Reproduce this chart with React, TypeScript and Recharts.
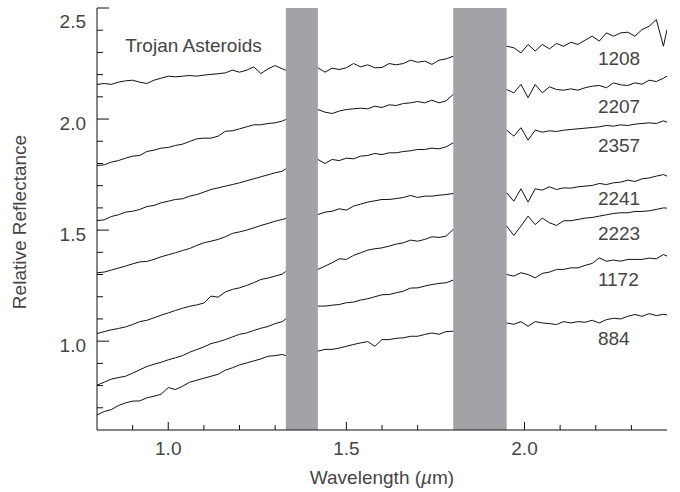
import { LineChart, Line, XAxis, YAxis, ReferenceArea, ReferenceDot, Label } from "recharts"

// wavelength grid (um); the two nulls break the lines at the telluric gaps
const waves = [
  0.8, 0.82, 0.84, 0.86, 0.88, 0.9, 0.92, 0.94, 0.96, 0.98, 1.0, 1.02, 1.04, 1.06,
  1.08, 1.1, 1.12, 1.14, 1.16, 1.18, 1.2, 1.22, 1.24, 1.26, 1.28, 1.3, 1.32, 1.33,
  1.375,
  1.42, 1.44, 1.46, 1.48, 1.5, 1.52, 1.54, 1.56, 1.58, 1.6, 1.62, 1.64, 1.66, 1.68,
  1.7, 1.72, 1.74, 1.76, 1.78, 1.8,
  1.875,
  1.95, 1.97, 1.99, 2.01, 2.03, 2.05, 2.07, 2.09, 2.11, 2.13, 2.15, 2.17, 2.19, 2.21,
  2.23, 2.25, 2.27, 2.29, 2.31, 2.33, 2.35, 2.37, 2.39, 2.4,
]

const s1208 = [
  2.156, 2.16, 2.156, 2.166, 2.172, 2.175, 2.166, 2.16, 2.175, 2.184, 2.193, 2.19, 2.193, 2.196,
  2.193, 2.198, 2.201, 2.204, 2.208, 2.22, 2.211, 2.22, 2.235, 2.205, 2.226, 2.241, 2.226, 2.22,
  null,
  2.231, 2.211, 2.229, 2.223, 2.231, 2.25, 2.235, 2.244, 2.231, 2.232, 2.25, 2.244, 2.25, 2.265,
  2.256, 2.261, 2.246, 2.265, 2.271, 2.283,
  null,
  2.328, 2.321, 2.298, 2.336, 2.306, 2.336, 2.316, 2.34, 2.328, 2.346, 2.336, 2.355, 2.373, 2.351,
  2.388, 2.373, 2.388, 2.391, 2.373, 2.403, 2.418, 2.448, 2.328, 2.403,
]
const s2207 = [
  1.791, 1.794, 1.806, 1.813, 1.824, 1.833, 1.836, 1.854, 1.86, 1.869, 1.872, 1.881, 1.887, 1.899,
  1.911, 1.914, 1.914, 1.923, 1.945, 1.947, 1.956, 1.965, 1.974, 1.974, 1.98, 1.983, 1.991, 1.998,
  null,
  2.043, 2.031, 2.025, 2.036, 2.043, 2.046, 2.049, 2.046, 2.058, 2.052, 2.064, 2.061, 2.07, 2.073,
  2.079, 2.073, 2.085, 2.073, 2.082, 2.111,
  null,
  2.133, 2.118, 2.156, 2.096, 2.156, 2.118, 2.145, 2.133, 2.13, 2.136, 2.13, 2.141, 2.148, 2.151,
  2.141, 2.163, 2.154, 2.151, 2.163, 2.157, 2.175, 2.169, 2.184, 2.193,
]
const s2357 = [
  1.543, 1.546, 1.561, 1.569, 1.581, 1.585, 1.593, 1.606, 1.611, 1.623, 1.63, 1.638, 1.641, 1.653,
  1.66, 1.671, 1.683, 1.69, 1.698, 1.705, 1.713, 1.722, 1.731, 1.74, 1.749, 1.758, 1.765, 1.776,
  null,
  1.818, 1.8, 1.818, 1.813, 1.824, 1.821, 1.833, 1.836, 1.845, 1.84, 1.848, 1.848, 1.854, 1.857,
  1.863, 1.863, 1.869, 1.866, 1.875, 1.893,
  null,
  1.95, 1.923, 1.961, 1.905, 1.95, 1.941, 1.947, 1.944, 1.95, 1.953, 1.956, 1.959, 1.962, 1.965,
  1.971, 1.968, 1.974, 1.971, 1.977, 1.98, 1.983, 1.98, 1.992, 1.986,
]
const s2241 = [
  1.308, 1.311, 1.32, 1.329, 1.338, 1.348, 1.357, 1.359, 1.368, 1.38, 1.389, 1.398, 1.408, 1.417,
  1.431, 1.443, 1.45, 1.458, 1.47, 1.485, 1.492, 1.5, 1.51, 1.521, 1.53, 1.54, 1.548, 1.552,
  null,
  1.57, 1.581, 1.585, 1.596, 1.59, 1.608, 1.617, 1.626, 1.632, 1.638, 1.638, 1.642, 1.647, 1.656,
  1.647, 1.653, 1.653, 1.657, 1.66, 1.665,
  null,
  1.668, 1.63, 1.686, 1.626, 1.686, 1.68, 1.695, 1.683, 1.69, 1.689, 1.695, 1.698, 1.701, 1.71,
  1.705, 1.713, 1.716, 1.725, 1.719, 1.731, 1.735, 1.743, 1.75, 1.743,
]
const s2223 = [
  1.034, 1.043, 1.051, 1.057, 1.064, 1.075, 1.088, 1.094, 1.105, 1.117, 1.127, 1.138, 1.148, 1.157,
  1.163, 1.172, 1.203, 1.198, 1.221, 1.233, 1.24, 1.251, 1.263, 1.278, 1.284, 1.293, 1.302, 1.314,
  null,
  1.323, 1.338, 1.353, 1.371, 1.368, 1.386, 1.398, 1.41, 1.416, 1.42, 1.428, 1.437, 1.443, 1.455,
  1.45, 1.458, 1.47, 1.467, 1.473, 1.503,
  null,
  1.518, 1.476, 1.518, 1.563, 1.525, 1.554, 1.533, 1.521, 1.542, 1.542, 1.548, 1.554, 1.557, 1.563,
  1.569, 1.575, 1.578, 1.578, 1.584, 1.584, 1.587, 1.593, 1.6, 1.599,
]
const s1172 = [
  0.802, 0.815, 0.829, 0.836, 0.842, 0.856, 0.871, 0.886, 0.896, 0.905, 0.916, 0.925, 0.935, 0.95,
  0.962, 0.974, 0.989, 0.997, 1.007, 1.019, 1.031, 1.037, 1.048, 1.058, 1.066, 1.079, 1.088, 1.1,
  null,
  1.158, 1.158, 1.162, 1.165, 1.173, 1.176, 1.185, 1.191, 1.2, 1.209, 1.21, 1.218, 1.225, 1.239,
  1.24, 1.248, 1.255, 1.26, 1.263, 1.275,
  null,
  1.3, 1.293, 1.308, 1.3, 1.285, 1.305, 1.311, 1.323, 1.323, 1.33, 1.33, 1.341, 1.35, 1.375,
  1.36, 1.365, 1.36, 1.368, 1.368, 1.368, 1.374, 1.371, 1.39, 1.383,
]
const s884 = [
  0.668, 0.683, 0.692, 0.71, 0.722, 0.73, 0.731, 0.745, 0.752, 0.761, 0.791, 0.782, 0.797, 0.815,
  0.824, 0.833, 0.842, 0.851, 0.869, 0.88, 0.893, 0.902, 0.911, 0.92, 0.932, 0.935, 0.94, 0.935,
  null,
  0.955, 0.963, 0.963, 0.969, 0.977, 0.985, 0.992, 0.998, 0.977, 1.007, 1.007, 1.013, 1.015, 1.022,
  1.022, 1.03, 1.037, 1.031, 1.043, 1.045,
  null,
  1.082, 1.076, 1.088, 1.067, 1.088, 1.082, 1.079, 1.075, 1.088, 1.082, 1.088, 1.085, 1.094, 1.082,
  1.097, 1.103, 1.1, 1.112, 1.12, 1.112, 1.124, 1.115, 1.121, 1.118,
]

const names = ["1208", "2207", "2357", "2241", "2223", "1172", "884"]
const spectra = [s1208, s2207, s2357, s2241, s2223, s1172, s884]
const labelWave = 2.206
const labelLevels = [2.275, 2.058, 1.885, 1.645, 1.488, 1.278, 1.015]

const bandStarts = [1.33, 1.8]
const bandEnds = [1.42, 1.95]

const xTicks = [0.9, 1.0, 1.1, 1.2, 1.3, 1.5, 1.6, 1.7, 2.0, 2.1, 2.2, 2.3]
const xMajor = [1.0, 1.5, 2.0]
const yTicks = [0.7, 0.8, 0.9, 1.0, 1.1, 1.2, 1.3, 1.4, 1.5, 1.6, 1.7, 1.8, 1.9, 2.0, 2.1, 2.2, 2.3, 2.4, 2.5]
const yMajor = [1.0, 1.5, 2.0, 2.5]

const rows = waves.map((w, i) => {
  const row: Record<string, number | null> = { w }
  names.forEach((n, k) => (row["s" + n] = spectra[k][i]))
  return row
})

const FONT = "'Liberation Sans', Arial, Helvetica, sans-serif"
const TEXT = "#454545"
const INK = "#111"

const isMajor = (list: number[], v: number) => list.some((m) => Math.abs(m - v) < 1e-6)

function BottomTick(p: any) {
  const v = p.payload.value
  const major = isMajor(xMajor, v)
  return (
    <g>
      <line x1={p.x} x2={p.x} y1={p.y} y2={p.y - (major ? 8 : 5)} stroke={INK} />
      {major && (
        <text x={p.x} y={p.y + 25} textAnchor="middle" fontSize={19} fontFamily={FONT} fill={TEXT}>
          {v.toFixed(1)}
        </text>
      )}
    </g>
  )
}

function TopTick(p: any) {
  const major = isMajor(xMajor, p.payload.value)
  return <line x1={p.x} x2={p.x} y1={p.y} y2={p.y + (major ? 8 : 5)} stroke={INK} />
}

function LeftTick(p: any) {
  const v = p.payload.value
  const major = isMajor(yMajor, v)
  const top = Math.abs(v - 2.5) < 1e-6
  return (
    <g>
      <line x1={p.x} x2={p.x + (major ? 12 : 6)} y1={p.y} y2={p.y} stroke={INK} />
      {major && (
        <text x={p.x - 11} y={p.y + (top ? 20 : 11)} textAnchor="end" fontSize={19} fontFamily={FONT} fill={TEXT}>
          {v.toFixed(1)}
        </text>
      )}
    </g>
  )
}

function RightTick(p: any) {
  const major = isMajor(yMajor, p.payload.value)
  return <line x1={p.x} x2={p.x - (major ? 10 : 5)} y1={p.y} y2={p.y} stroke={INK} />
}

export default function App() {
  return (
    <div style={{ position: "absolute", left: 0, top: 0, background: "#fff" }}>
      <LineChart width={680} height={492} data={rows} margin={{ top: 8, right: 13, bottom: 0, left: 0 }}>
        {bandStarts.map((b, i) => (
          <ReferenceArea key={"band" + i} x1={b} x2={bandEnds[i]} y1={0.6} y2={2.5} fill="#a3a3a7" fillOpacity={1} stroke="none" />
        ))}
        <XAxis
          dataKey="w"
          type="number"
          domain={[0.8, 2.4]}
          allowDataOverflow
          ticks={xTicks}
          interval={0}
          tickSize={0}
          tickMargin={0}
          tickLine={false}
          tick={(p: any) => <BottomTick {...p} />}
          height={62}
          axisLine={{ stroke: INK }}
        >
          <Label
            content={() => (
              <text x={382} y={484} textAnchor="middle" fontSize={19} fontFamily={FONT} fill={TEXT}>
                Wavelength (<tspan fontStyle="italic">µ</tspan>m)
              </text>
            )}
          />
        </XAxis>
        <XAxis
          xAxisId="top"
          orientation="top"
          type="number"
          domain={[0.8, 2.4]}
          allowDataOverflow
          ticks={xTicks}
          interval={0}
          tickSize={0}
          tickMargin={0}
          tickLine={false}
          tick={(p: any) => <TopTick {...p} />}
          height={0}
          axisLine={{ stroke: INK }}
        />
        <YAxis
          type="number"
          domain={[0.6, 2.5]}
          allowDataOverflow
          ticks={yTicks}
          interval={0}
          tickSize={0}
          tickMargin={0}
          tickLine={false}
          tick={(p: any) => <LeftTick {...p} />}
          width={97}
          axisLine={{ stroke: INK }}
        >
          <Label
            content={() => (
              <text
                x={26}
                y={222}
                transform="rotate(-90 26 222)"
                textAnchor="middle"
                fontSize={19}
                fontFamily={FONT}
                fill={TEXT}
              >
                Relative Reflectance
              </text>
            )}
          />
        </YAxis>
        <YAxis
          yAxisId="right"
          orientation="right"
          type="number"
          domain={[0.6, 2.5]}
          allowDataOverflow
          ticks={yTicks}
          interval={0}
          tickSize={0}
          tickMargin={0}
          tickLine={false}
          tick={(p: any) => <RightTick {...p} />}
          width={0}
          axisLine={{ stroke: INK }}
        />
        {names.map((n) => (
          <Line
            key={n}
            dataKey={"s" + n}
            type="linear"
            stroke="#111"
            strokeWidth={1}
            dot={false}
            activeDot={false}
            isAnimationActive={false}
          />
        ))}
        {names.map((n, i) => (
          <ReferenceDot
            key={"lab" + n}
            x={labelWave}
            y={labelLevels[i]}
            r={0}
            shape={(p: any) => (
              <text x={p.cx} y={p.cy + 7} fontSize={19} fontFamily={FONT} fill={TEXT}>
                {n}
              </text>
            )}
          />
        ))}
        <ReferenceDot
          x={0.879}
          y={2.333}
          r={0}
          shape={(p: any) => (
            <text x={p.cx} y={p.cy + 7} fontSize={19} fontFamily={FONT} fill={TEXT}>
              Trojan Asteroids
            </text>
          )}
        />
      </LineChart>
    </div>
  )
}
